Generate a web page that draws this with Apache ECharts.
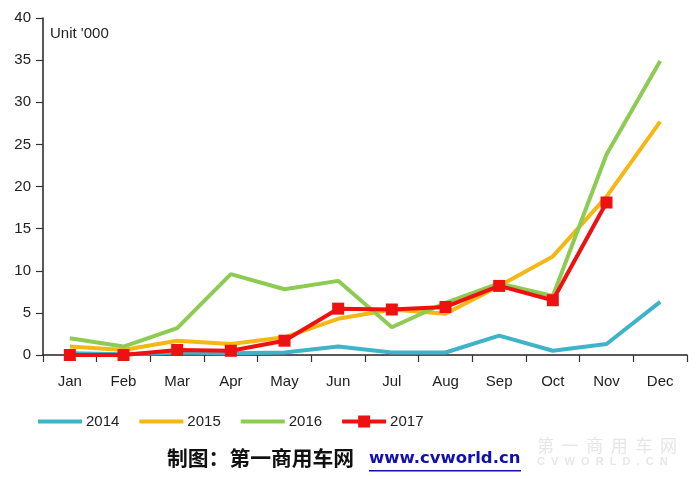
<!DOCTYPE html>
<html>
<head>
<meta charset="utf-8">
<script src="https://cdn.jsdelivr.net/npm/echarts@6/dist/echarts.min.js"></script>
<style>html,body{margin:0;padding:0;background:#fff}#c{width:700px;height:479px}</style>
</head>
<body>
<div id="c"></div>
<script>
const months = ['Jan','Feb','Mar','Apr','May','Jun','Jul','Aug','Sep','Oct','Nov','Dec'];
const s2014 = [0.2, 0.1, 0.3, 0.2, 0.3, 1.0, 0.3, 0.3, 2.3, 0.5, 1.3, 6.3];
const s2015 = [1.0, 0.6, 1.7, 1.3, 2.1, 4.3, 5.4, 4.9, 8.2, 11.7, 18.8, 27.7];
const s2016 = [2.0, 1.0, 3.2, 9.6, 7.8, 8.8, 3.3, 6.2, 8.5, 7.0, 23.8, 34.9];
const s2017 = [0.0, 0.0, 0.6, 0.5, 1.7, 5.5, 5.4, 5.7, 8.2, 6.5, 18.1];
const yTicks = [0, 5, 10, 15, 20, 25, 30, 35, 40];

const chart = echarts.init(document.getElementById('c'), null, {renderer: 'canvas'});
const font = 'Liberation Sans, Arial, sans-serif';
const lineIcon = 'path://M0,4 L44,4 L44,8 L0,8 Z';
const lineSeries = (name, data, color) => ({
  name, type: 'line', data, symbol: 'none', smooth: false,
  lineStyle: {color, width: 4}, itemStyle: {color}, z: 2
});
chart.setOption({
  animation: false,
  grid: {left: 43, right: 13, top: 18, bottom: 124, containLabel: false},
  legend: {
    bottom: 50, left: 38, padding: 0, itemWidth: 44, itemHeight: 12, itemGap: 20,
    textStyle: {fontFamily: font, fontSize: 15, color: '#222', padding: [0, 0, 0, -1]},
    data: [
      {name: '2014', icon: lineIcon},
      {name: '2015', icon: lineIcon},
      {name: '2016', icon: lineIcon},
      {name: '2017', icon: 'path://M0,4 L44,4 L44,8 L0,8 Z M16,0 L28,0 L28,12 L16,12 Z'}
    ]
  },
  xAxis: {
    type: 'category', data: months, boundaryGap: true,
    axisLine: {lineStyle: {color: '#222', width: 1.5}},
    axisTick: {show: true, length: 7, alignWithLabel: false, lineStyle: {color: '#333', width: 1.2}},
    axisLabel: {fontFamily: font, fontSize: 15, color: '#222', margin: 19}
  },
  yAxis: {
    type: 'value', min: yTicks[0], max: yTicks[yTicks.length - 1], interval: 5,
    splitLine: {show: false},
    axisLine: {show: true, lineStyle: {color: '#222', width: 1.5}},
    axisTick: {show: true, length: 7, lineStyle: {color: '#333', width: 1.2}},
    axisLabel: {fontFamily: font, fontSize: 15, color: '#222', margin: 12}
  },
  series: [
    lineSeries('2014', s2014, '#3FB3C8'),
    lineSeries('2015', s2015, '#F4B714'),
    lineSeries('2016', s2016, '#8DCB52'),
    {
      name: '2017', type: 'line', data: s2017, symbol: 'rect', symbolSize: 12,
      lineStyle: {color: '#EE1111', width: 4}, itemStyle: {color: '#EE1111'}, z: 3
    }
  ],
  graphic: [
    {type: 'text', left: 50, top: 26, style: {text: "Unit '000", fontFamily: font, fontSize: 15, fill: '#222'}},
    {type: 'text', left: 167, top: 448, style: {text: '制图：第一商用车网', fontFamily: 'Noto Sans CJK SC', fontWeight: 'bold', fontSize: 20.8, fill: '#111'}},
    {type: 'text', left: 369, top: 450, style: {text: 'www.cvworld.cn', fontFamily: 'DejaVu Sans', fontWeight: 'bold', fontSize: 16.5, fill: '#1010B0'}},
    {type: 'rect', left: 369, top: 470, shape: {width: 152, height: 1.5}, style: {fill: '#1010B0'}},
    {type: 'text', left: 537, top: 437, style: {text: '第  一  商  用  车  网', fontFamily: 'Noto Sans CJK SC', fontSize: 17, fill: '#e6e6e6'}},
    {type: 'text', left: 537, top: 456, style: {text: 'C  V  W  O  R  L  D  .  C  N', fontFamily: font, fontWeight: 'bold', fontSize: 11, fill: '#e8e8e8'}}
  ]
});
</script>
</body>
</html>
